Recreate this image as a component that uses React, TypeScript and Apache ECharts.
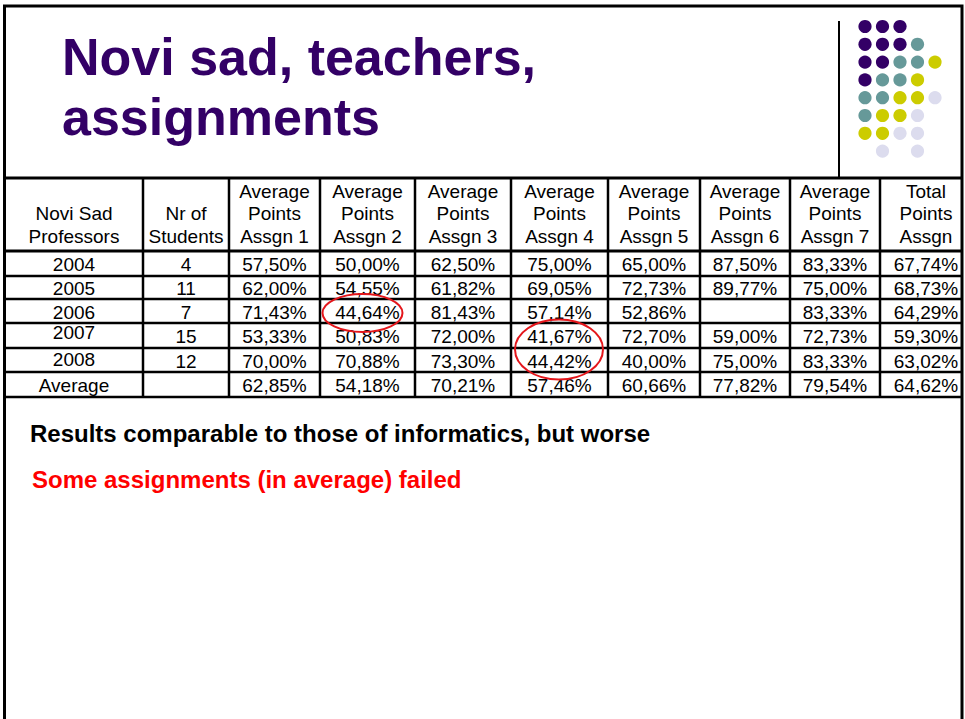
import React, { useEffect, useRef } from "react";
import * as echarts from "echarts";

// ---- data ----
const rowLabels = ["2004", "2005", "2006", "2007", "2008", "Average"];
const nrStudents: (number | null)[] = [4, 11, 7, 15, 12, null];
const assgn1: (number | null)[] = [57.5, 62.0, 71.43, 53.33, 70.0, 62.85];
const assgn2: (number | null)[] = [50.0, 54.55, 44.64, 50.83, 70.88, 54.18];
const assgn3: (number | null)[] = [62.5, 61.82, 81.43, 72.0, 73.3, 70.21];
const assgn4: (number | null)[] = [75.0, 69.05, 57.14, 41.67, 44.42, 57.46];
const assgn5: (number | null)[] = [65.0, 72.73, 52.86, 72.7, 40.0, 60.66];
const assgn6: (number | null)[] = [87.5, 89.77, null, 59.0, 75.0, 77.82];
const assgn7: (number | null)[] = [83.33, 75.0, 83.33, 72.73, 83.33, 79.54];
const totalPts: (number | null)[] = [67.74, 68.73, 64.29, 59.3, 63.02, 64.62];
const headerLabels: string[][] = [
  ["Novi Sad", "Professors"],
  ["Nr of", "Students"],
  ["Average", "Points", "Assgn 1"],
  ["Average", "Points", "Assgn 2"],
  ["Average", "Points", "Assgn 3"],
  ["Average", "Points", "Assgn 4"],
  ["Average", "Points", "Assgn 5"],
  ["Average", "Points", "Assgn 6"],
  ["Average", "Points", "Assgn 7"],
  ["Total", "Points", "Assgn"],
];
const titleLines = ["Novi sad, teachers,", "assignments"];
const note1 = "Results comparable to those of informatics, but worse";
const note2 = "Some assignments (in average) failed";
// highlighted cells: [column index, first row, last row]
const highlights: [number, number, number][] = [
  [3, 2, 2],
  [5, 3, 4],
];

// ---- layout / style ----
const FONT = "'Liberation Sans', Arial, Helvetica, sans-serif";
const PURPLE = "#330066";
const TEAL = "#669999";
const YELLOW = "#CCCC00";
const LAVENDER = "#DCDCEE";
const colX = [5, 143, 229, 320, 415, 511, 608, 700, 790, 880, 961];
const rowLines = [178, 251, 276, 299, 323, 348, 372, 397];
const headerLineY = [191, 213.5, 236];
const yearShift = [0, 0, 0, -4, -2, 0];
const ellipseGeom = [
  { dx: -5, dy: 2, rx: 40, ry: 19 },
  { dx: -0.5, dy: 2, rx: 44, ry: 30 },
];

const logoPattern = [
  "PPP..",
  "PPPT.",
  "PPTTY",
  "PTTY.",
  "TTYYL",
  "TYYL.",
  "YYLL.",
  ".L.L.",
];

function fmtPct(v: number | null) {
  if (v === null) return "";
  return v.toFixed(2).replace(".", ",") + "%";
}

export default function App() {
  const ref = useRef<HTMLDivElement>(null);
  useEffect(() => {
    if (!ref.current) return;
    const chart = echarts.init(ref.current, undefined, { renderer: "svg" });
    const els: any[] = [];

    // slide frame
    els.push({
      type: "polyline",
      shape: { points: [[4.5, 740], [4.5, 6], [962, 6], [962, 740]] },
      style: { stroke: "#000", lineWidth: 3, fill: null },
    });

    // title
    titleLines.forEach((t, i) => {
      els.push({
        type: "text",
        x: 62,
        y: 57 + i * 60,
        style: {
          text: t,
          fill: PURPLE,
          fontSize: 52,
          fontWeight: "bold",
          fontFamily: FONT,
          align: "left",
          verticalAlign: "middle",
        },
      });
    });

    // logo separator line
    els.push({
      type: "line",
      shape: { x1: 839, y1: 21, x2: 839, y2: 178 },
      style: { stroke: "#000", lineWidth: 2 },
    });

    // logo dots
    const cmap: Record<string, string> = { P: PURPLE, T: TEAL, Y: YELLOW, L: LAVENDER };
    logoPattern.forEach((row, r) => {
      row.split("").forEach((c, k) => {
        if (c === ".") return;
        els.push({
          type: "circle",
          shape: { cx: 865 + k * 17.5, cy: 26.5 + r * 17.8, r: 6.6 },
          style: { fill: cmap[c] },
        });
      });
    });

    // table grid
    rowLines.forEach((y, i) => {
      els.push({
        type: "line",
        shape: { x1: 4, y1: y, x2: 962, y2: y },
        style: { stroke: "#000", lineWidth: i === 0 || i === 1 ? 3 : 2.5 },
      });
    });
    colX.slice(1, -1).forEach((x) => {
      els.push({
        type: "line",
        shape: { x1: x, y1: rowLines[0], x2: x, y2: rowLines[rowLines.length - 1] },
        style: { stroke: "#000", lineWidth: 2.5 },
      });
    });

    const colCenter = (c: number) =>
      c === colX.length - 2 ? 926 : (colX[c] + colX[c + 1]) / 2;

    const cellText = (t: string, x: number, y: number) => ({
      type: "text",
      x,
      y,
      style: {
        text: t,
        fill: "#000",
        fontSize: 19,
        fontFamily: FONT,
        align: "center",
        verticalAlign: "middle",
      },
    });

    // header
    headerLabels.forEach((lines, c) => {
      const start = 3 - lines.length;
      lines.forEach((t, i) => {
        els.push(cellText(t, colCenter(c), headerLineY[start + i]));
      });
    });

    // body
    const columns = [assgn1, assgn2, assgn3, assgn4, assgn5, assgn6, assgn7, totalPts];
    rowLabels.forEach((lab, r) => {
      const cy = (rowLines[r + 1] + rowLines[r + 2]) / 2 + 1;
      els.push(cellText(lab, colCenter(0), cy + yearShift[r]));
      const n = nrStudents[r];
      els.push(cellText(n === null ? "" : String(n), colCenter(1), cy));
      columns.forEach((col, j) => {
        els.push(cellText(fmtPct(col[r]), colCenter(j + 2), cy));
      });
    });

    // red ellipses around failing cells
    highlights.forEach(([c, r0, r1], i) => {
      const yTop = rowLines[r0 + 1];
      const yBot = rowLines[r1 + 2];
      const g = ellipseGeom[i];
      els.push({
        type: "ellipse",
        shape: {
          cx: colCenter(c) + g.dx,
          cy: (yTop + yBot) / 2 + g.dy,
          rx: g.rx,
          ry: g.ry,
        },
        style: { stroke: "#E4161B", lineWidth: 2, fill: null },
      });
    });

    // notes
    els.push({
      type: "text",
      x: 30,
      y: 433,
      style: {
        text: note1,
        fill: "#000",
        fontSize: 24,
        fontWeight: "bold",
        fontFamily: FONT,
        align: "left",
        verticalAlign: "middle",
      },
    });
    els.push({
      type: "text",
      x: 32,
      y: 479.5,
      style: {
        text: note2,
        fill: "#FF0000",
        fontSize: 24,
        fontWeight: "bold",
        fontFamily: FONT,
        align: "left",
        verticalAlign: "middle",
      },
    });

    chart.setOption({
      animation: false,
      backgroundColor: "#ffffff",
      graphic: { elements: els },
    });
    return () => chart.dispose();
  }, []);
  return (
    <div
      ref={ref}
      style={{ position: "fixed", left: 0, top: 0, width: 965, height: 719, background: "#fff" }}
    />
  );
}
